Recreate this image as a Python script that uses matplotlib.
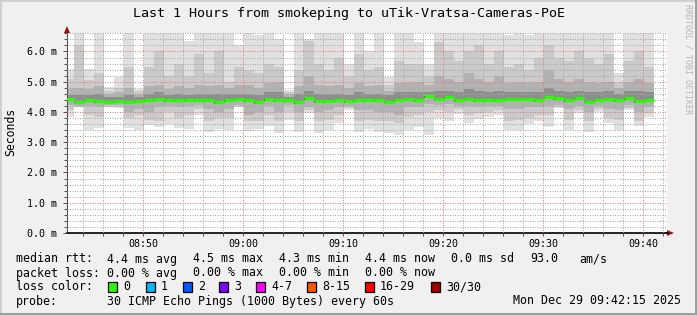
import numpy as np
import pandas as pd
import matplotlib
matplotlib.use('Agg')
import matplotlib.pyplot as plt
import matplotlib.dates as mdates
from matplotlib.patches import Rectangle, Polygon
from matplotlib.ticker import MultipleLocator, FuncFormatter

# one column per 60 s step, values in milliseconds
times = pd.date_range('2025-12-29 08:42:06', periods=59, freq='60s')

ping_max = [5.41, 6.8, 5.41, 6.8, 4.82, 5.17, 6.8, 4.75, 6.8, 6.8,
            6.8, 6.8, 6.33, 6.8, 6.8, 6.8, 6.8, 6.20, 6.8, 6.55,
            6.8, 6.40, 4.72, 6.8, 6.40, 6.8, 6.8, 6.8, 5.60, 6.8,
            6.00, 6.8, 5.15, 6.8, 6.8, 6.30, 5.60, 6.8, 6.8, 6.8,
            6.8, 6.8, 6.8, 6.8, 6.55, 6.60, 6.55, 6.8, 6.8, 6.8,
            6.8, 6.8, 6.8, 6.8, 6.8, 5.30, 6.8, 6.8, 6.8]
ping_hi1 = [5.10, 6.20, 5.05, 5.30, 4.70, 4.80, 5.50, 4.68, 5.50, 6.00,
            5.20, 5.60, 5.20, 5.90, 5.30, 6.00, 5.00, 5.50, 5.40, 5.30,
            5.60, 5.50, 4.65, 5.40, 6.35, 5.60, 5.40, 5.80, 5.20, 5.90,
            5.40, 5.50, 4.90, 5.70, 5.60, 5.60, 5.20, 6.30, 6.00, 5.70,
            6.00, 6.20, 5.60, 6.00, 5.50, 5.60, 5.40, 5.80, 6.20, 5.80,
            5.70, 6.00, 5.80, 5.60, 5.90, 5.00, 5.70, 6.00, 5.50]
ping_hi2 = [4.75, 4.80, 4.75, 4.85, 4.60, 4.65, 4.80, 4.60, 4.85, 4.90,
            4.75, 4.85, 4.80, 4.90, 4.85, 4.90, 4.80, 4.90, 4.90, 4.80,
            4.95, 5.00, 4.58, 4.85, 5.20, 4.90, 4.85, 4.90, 4.80, 4.95,
            4.85, 4.90, 4.70, 4.95, 4.95, 5.00, 4.90, 5.20, 5.10, 5.00,
            5.30, 5.10, 5.00, 5.20, 4.95, 5.00, 4.95, 5.00, 5.40, 5.10,
            5.00, 5.10, 5.00, 4.95, 5.00, 4.80, 5.00, 5.10, 4.95]
ping_hi3 = [4.55, 4.55, 4.55, 4.60, 4.50, 4.50, 4.55, 4.50, 4.60, 4.65,
            4.55, 4.60, 4.55, 4.60, 4.60, 4.60, 4.60, 4.60, 4.60, 4.55,
            4.65, 4.65, 4.50, 4.60, 4.70, 4.60, 4.60, 4.60, 4.55, 4.65,
            4.60, 4.60, 4.55, 4.65, 4.65, 4.65, 4.65, 4.70, 4.70, 4.65,
            4.75, 4.70, 4.65, 4.70, 4.65, 4.65, 4.65, 4.65, 4.80, 4.70,
            4.65, 4.70, 4.65, 4.65, 4.70, 4.60, 4.70, 4.70, 4.65]
median = [4.44, 4.34, 4.40, 4.37, 4.34, 4.35, 4.34, 4.35, 4.39, 4.42,
          4.38, 4.38, 4.38, 4.39, 4.40, 4.33, 4.40, 4.44, 4.40, 4.33,
          4.43, 4.39, 4.40, 4.33, 4.46, 4.35, 4.35, 4.38, 4.35, 4.39,
          4.38, 4.40, 4.34, 4.38, 4.44, 4.39, 4.52, 4.44, 4.50, 4.38,
          4.44, 4.39, 4.40, 4.40, 4.44, 4.44, 4.44, 4.40, 4.51, 4.45,
          4.38, 4.45, 4.34, 4.40, 4.44, 4.38, 4.47, 4.35, 4.40]
ping_lo3 = [4.38, 4.28, 4.34, 4.31, 4.28, 4.29, 4.28, 4.29, 4.33, 4.36,
            4.32, 4.32, 4.32, 4.33, 4.34, 4.27, 4.34, 4.38, 4.34, 4.27,
            4.37, 4.33, 4.34, 4.27, 4.40, 4.29, 4.29, 4.32, 4.29, 4.33,
            4.32, 4.34, 4.28, 4.32, 4.38, 4.33, 4.46, 4.38, 4.44, 4.32,
            4.38, 4.33, 4.34, 4.34, 4.38, 4.38, 4.38, 4.34, 4.45, 4.39,
            4.32, 4.39, 4.28, 4.34, 4.38, 4.32, 4.41, 4.29, 4.34]
ping_lo2 = [4.22, 4.21, 4.20, 4.15, 4.22, 4.22, 4.00, 4.10, 4.00, 4.15,
            4.20, 4.15, 4.20, 4.22, 4.10, 4.00, 4.10, 4.22, 3.90, 4.00,
            4.20, 4.00, 4.22, 4.00, 4.15, 4.00, 4.05, 4.15, 4.20, 4.05,
            4.05, 4.00, 4.00, 3.90, 4.15, 4.15, 4.25, 4.22, 4.25, 4.20,
            4.20, 4.15, 4.20, 4.20, 4.10, 4.10, 4.15, 4.15, 4.20, 4.22,
            4.10, 4.20, 4.00, 4.20, 4.10, 4.05, 4.22, 4.00, 4.15]
ping_lo1 = [4.05, 4.18, 3.90, 3.85, 4.18, 4.18, 3.80, 3.90, 3.75, 3.70,
            4.00, 3.80, 3.90, 4.10, 3.70, 3.80, 3.80, 4.18, 3.70, 3.70,
            3.90, 3.70, 4.00, 3.70, 4.05, 3.70, 3.75, 3.90, 4.12, 3.70,
            3.75, 3.70, 3.70, 3.65, 3.85, 3.90, 4.00, 4.05, 4.00, 4.10,
            3.90, 3.95, 4.00, 4.05, 3.70, 3.75, 3.80, 3.90, 3.90, 4.15,
            3.75, 4.05, 3.70, 4.10, 3.80, 3.75, 4.12, 3.70, 3.95]
ping_min = [3.82, 4.15, 3.40, 3.46, 4.15, 4.14, 3.46, 3.40, 3.57, 3.51,
            3.59, 3.46, 3.45, 3.90, 3.35, 3.45, 3.40, 4.15, 3.38, 3.45,
            3.55, 3.32, 3.72, 3.35, 3.95, 3.30, 3.40, 3.62, 4.05, 3.35,
            3.45, 3.35, 3.30, 3.25, 3.42, 3.50, 3.25, 3.80, 3.70, 3.92,
            3.65, 3.78, 3.83, 3.90, 3.40, 3.40, 3.60, 3.71, 3.51, 4.12,
            3.40, 3.96, 3.34, 4.00, 3.62, 3.40, 4.06, 3.54, 3.82]

loss_labels = ['0', '1', '2', '3', '4-7', '8-15', '16-29', '30/30']
loss_colors = ['#26ff00', '#00b8ff', '#0059ff', '#7e00ff',
               '#ff00ff', '#ff5500', '#ff0000', '#a10000']

W, H = 697, 315
MONO = 'DejaVu Sans Mono'


def fx(x):
    return x / W


def fy(y):
    return 1 - y / H


fig = plt.figure(figsize=(W / 100, H / 100), dpi=100, facecolor='#f0f0f0')

# 3d-ish frame
fig.patches.append(Rectangle((0, fy(2)), 1, 2 / H, transform=fig.transFigure, color='#cfcfcf', lw=0))
fig.patches.append(Rectangle((0, 0), 2 / W, 1, transform=fig.transFigure, color='#cfcfcf', lw=0))
fig.patches.append(Rectangle((fx(695), 0), 2 / W, 1, transform=fig.transFigure, color='#9e9e9e', lw=0))
fig.patches.append(Rectangle((0, 0), 1, 2 / H, transform=fig.transFigure, color='#9e9e9e', lw=0))

ax = fig.add_axes([fx(67), fy(233), 600 / W, 200 / H])
ax.set_facecolor('white')

t = mdates.date2num(times)
w = 1 / 1440

bands = [(ping_min, ping_max, '#e0e0e0'),
         (ping_lo1, ping_hi1, '#cacaca'),
         (ping_lo2, ping_hi2, '#b2b2b2'),
         (ping_lo3, ping_hi3, '#8e8e8e'),
         (ping_lo3, median, '#383838')]
for lo, hi, c in bands:
    lo = np.array(lo)
    hi = np.array(hi)
    ax.bar(t, hi - lo, bottom=lo, width=w, align='edge', color=c, lw=0, zorder=1)

ax.hlines(median, t, t + w, colors=loss_colors[0], lw=2.2, zorder=4, capstyle='butt')

x0 = mdates.date2num(pd.Timestamp('2025-12-29 08:42:24'))
ax.set_xlim(x0, x0 + 60 / 1440)
ax.set_ylim(0, 6.61)

ax.xaxis.set_major_locator(mdates.MinuteLocator(byminute=range(0, 60, 10)))
ax.xaxis.set_minor_locator(mdates.MinuteLocator(byminute=range(0, 60, 2)))
ax.xaxis.set_major_formatter(mdates.DateFormatter('%H:%M'))
ax.yaxis.set_major_locator(MultipleLocator(1.0))
ax.yaxis.set_minor_locator(MultipleLocator(0.2))
ax.yaxis.set_major_formatter(FuncFormatter(lambda v, p: f'{v:.1f} m'))

ax.set_axisbelow(False)
ax.grid(which='minor', color='#a6a6a6', lw=0.72, ls=(0, (1, 1.5)))
ax.grid(which='major', color='#df7a7a', lw=0.72, ls=(0, (1, 1.5)))

ax.tick_params(which='both', direction='out', length=2, width=0.72, color='#555555',
               labelsize=7.2, labelcolor='black')
ax.tick_params(axis='y', which='major', length=3, pad=4)
ax.tick_params(axis='x', which='major', pad=2)
for lab in ax.get_xticklabels() + ax.get_yticklabels():
    lab.set_fontfamily(MONO)

for s in ['top', 'right']:
    ax.spines[s].set_visible(False)
ax.spines['left'].set_color('#555555')
ax.spines['left'].set_linewidth(0.8)
ax.spines['bottom'].set_color('black')
ax.spines['bottom'].set_linewidth(1.2)

# axis arrows
fig.patches.append(Polygon([(fx(64), fy(33)), (fx(70), fy(33)), (fx(67), fy(26))],
                           closed=True, transform=fig.transFigure, color='#a01010', lw=0))
fig.add_artist(plt.Line2D([fx(667), fx(668)], [fy(233), fy(233)], color='black', lw=1.2))
fig.patches.append(Polygon([(fx(667), fy(230)), (fx(667), fy(236)), (fx(674), fy(233))],
                           closed=True, transform=fig.transFigure, color='#a01010', lw=0))

fig.text(fx(349), fy(14), 'Last 1 Hours from smokeping to uTik-Vratsa-Cameras-PoE',
         ha='center', va='center', family=MONO, size=9.6)
fig.text(fx(11), fy(132), 'Seconds', rotation=90, ha='center', va='center', family=MONO, size=8.3)
fig.text(fx(688), fy(4), 'RRDTOOL / TOBI OETIKER', rotation=270, ha='center', va='top',
         family=MONO, size=6, color='#b4b4b4')

# legend block
LS = 8.4
rows = [
    (259, [(16, 'median rtt:'), (107, '4.4 ms avg'), (193, '4.5 ms max'), (279, '4.3 ms min'),
           (365, '4.4 ms now'), (451, '0.0 ms sd'), (530, '93.0'), (579, 'am/s')]),
    (273, [(16, 'packet loss:'), (107, '0.00 % avg'), (193, '0.00 % max'), (279, '0.00 % min'),
           (365, '0.00 % now')]),
    (287, [(16, 'loss color:')]),
    (301, [(16, 'probe:'), (107, '30 ICMP Echo Pings (1000 Bytes) every 60s'),
           (513, 'Mon Dec 29 09:42:15 2025')]),
]
for y, items in rows:
    for x, s in items:
        fig.text(fx(x), fy(y), s, ha='left', va='center', family=MONO, size=LS)

box_x = [108, 146, 183, 219, 256, 307, 365, 431]
for bx, lab, c in zip(box_x, loss_labels, loss_colors):
    fig.patches.append(Rectangle((fx(bx), fy(292)), 9 / W, 10 / H, transform=fig.transFigure,
                                 facecolor=c, edgecolor='black', lw=0.9))
    fig.text(fx(bx + 15), fy(287), lab, ha='left', va='center', family=MONO, size=LS)

fig.savefig('out.png', dpi=100, facecolor=fig.get_facecolor())
